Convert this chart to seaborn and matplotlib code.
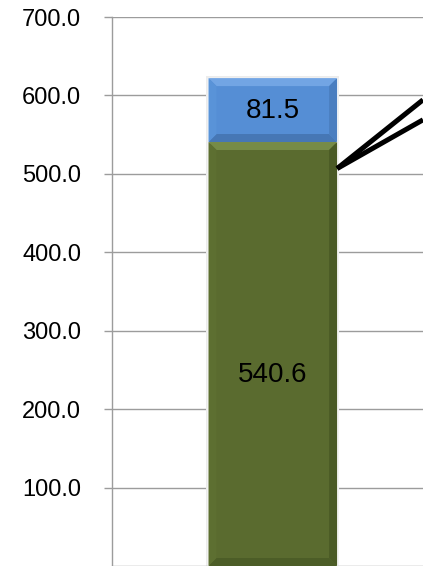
import numpy as np
import pandas as pd
import matplotlib
matplotlib.use('Agg')
import matplotlib.pyplot as plt
from matplotlib.patches import Polygon
import seaborn as sns


# ===================================
# Data
# ===================================
CATEGORIES   = ['A']
BASE_VALUES  = [540.6]          # green segment
TOP_VALUES   = [81.5]           # blue segment stacked on top
Y_TICKS      = [100, 200, 300, 400, 500, 600, 700]
# connector lines leaving the bar (start at the bar edge, end off to the right)
LINE_START_Y = [506.8, 506.8]
LINE_END_Y   = [594.4, 568.9]

GREEN = '#5A6B2F'
BLUE  = '#558ED5'
GRID  = '#9C9C9C'


# ===================================
# Figure / axes
# ===================================
sns.set_theme(style='white')
plt.rcParams['font.family'] = ['Liberation Sans', 'DejaVu Sans']

W, H, DPI = 423, 566, 100
fig = plt.figure(figsize=(W / DPI, H / DPI), dpi=DPI)
ax = fig.add_axes([112 / W, 0.0, 1 - 112 / W, 1 - 17 / H])

df = pd.DataFrame({
    'cat': CATEGORIES,
    'base': BASE_VALUES,
    'total': np.array(BASE_VALUES) + np.array(TOP_VALUES),
})

# stacked look: full total in blue, base drawn over it in green
sns.barplot(data=df, x='cat', y='total', color=BLUE, width=0.4,
            saturation=1, ax=ax, zorder=2)
sns.barplot(data=df, x='cat', y='base', color=GREEN, width=0.4,
            saturation=1, ax=ax, zorder=3)

ax.set_xlim(-0.5, 0.467)
ax.set_ylim(0, 700)
ax.set_yticks(Y_TICKS)
ax.set_yticklabels([f'{v:.1f}' for v in Y_TICKS])
ax.set_xticks([])
ax.set_xlabel('')
ax.set_ylabel('')

ax.grid(axis='y', color=GRID, linewidth=1.0)
ax.set_axisbelow(True)
for side in ['top', 'right']:
    ax.spines[side].set_visible(False)
for side in ['left', 'bottom']:
    ax.spines[side].set_color(GRID)
    ax.spines[side].set_linewidth(1.0)
ax.tick_params(axis='y', direction='out', length=5.8, width=1.0,
               color=GRID, pad=16.5, labelsize=17, labelcolor='black', left=True)


# ===================================
# Bevel effect on each segment (sizes in pixels -> data units)
# ===================================
def px_to_data(ax, px):
    inv = ax.transData.inverted()
    (x0, y0), (x1, y1) = inv.transform([(0, 0), (px, px)])
    return abs(x1 - x0), abs(y1 - y0)


def bevel(ax, x0, x1, y0, y1, shades, size=8):
    dx, dy = px_to_data(ax, size)
    top, bottom, left, right = shades
    polys = [
        ([(x0, y1), (x1, y1), (x1 - dx, y1 - dy), (x0 + dx, y1 - dy)], top),
        ([(x0, y0), (x1, y0), (x1 - dx, y0 + dy), (x0 + dx, y0 + dy)], bottom),
        ([(x0, y0), (x0 + dx, y0 + dy), (x0 + dx, y1 - dy), (x0, y1)], left),
        ([(x1, y0), (x1 - dx, y0 + dy), (x1 - dx, y1 - dy), (x1, y1)], right),
    ]
    for pts, c in polys:
        ax.add_patch(Polygon(pts, closed=True, facecolor=c, edgecolor='none', zorder=4))


bar = ax.patches[0]
bx0 = bar.get_x()
bx1 = bar.get_x() + bar.get_width()

# faint shadow around the bar
sx, sy = px_to_data(ax, 2)
ax.add_patch(plt.Rectangle((bx0 - sx, 0), bx1 - bx0 + 2 * sx,
                           BASE_VALUES[0] + TOP_VALUES[0] + sy,
                           facecolor='#ECECEC', edgecolor='none', zorder=1.5))

for base, top in zip(BASE_VALUES, TOP_VALUES):
    bevel(ax, bx0, bx1, 0, base, ['#768B47', '#4C5D27', '#5D6F31', '#4A5A25'])
    bevel(ax, bx0, bx1, base, base + top, ['#72A5E4', '#4677B5', '#5993D8', '#4A7EC0'])


# ===================================
# Value labels
# ===================================
for i, (base, top) in enumerate(zip(BASE_VALUES, TOP_VALUES)):
    ax.annotate(f'{base:.1f}', (i, base / 2), xytext=(0, -15), textcoords='offset points',
                ha='center', va='center', fontsize=20, color='black', zorder=6)
    ax.annotate(f'{top:.1f}', (i, base + top / 2), xytext=(0, -1), textcoords='offset points',
                ha='center', va='center', fontsize=20, color='black', zorder=6)


# ===================================
# Connector lines
# ===================================
x_end = ax.get_xlim()[1]
for ys, ye in zip(LINE_START_Y, LINE_END_Y):
    ax.plot([bx1, x_end], [ys, ye], color='black', linewidth=3.6,
            solid_capstyle='butt', zorder=5, clip_on=False)

fig.savefig('out.png', dpi=DPI)
plt.close(fig)
